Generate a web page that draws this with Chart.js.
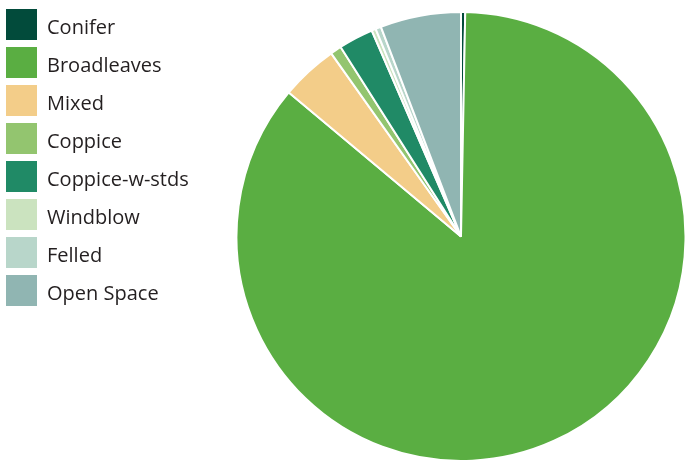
<!DOCTYPE html>
<html>
<head>
<meta charset="utf-8">
<script src="https://cdn.jsdelivr.net/npm/chart.js@4/dist/chart.umd.min.js"></script>
<style>
  html, body { margin: 0; padding: 0; background: #fff; }
  #wrap { position: relative; width: 687px; height: 462px; }
  #grafico { position: absolute; left: 0; top: 0; }
  #legenda { position: absolute; left: 6px; top: 9px; font-family: "Open Sans", sans-serif; font-size: 20px; color: #231f20; }
  .item { height: 31px; margin-bottom: 7px; display: flex; align-items: center; }
  .item span { padding-top: 3px; }
  .caixa { width: 31px; height: 31px; margin-right: 10px; }
</style>
</head>
<body>
<div id="wrap">
  <canvas id="grafico" width="687" height="462"></canvas>
  <div id="legenda"></div>
</div>
<script>
// area share (%) per woodland type
var categorias = ['Conifer', 'Broadleaves', 'Mixed', 'Coppice', 'Coppice-w-stds', 'Windblow', 'Felled', 'Open Space'];
var valores = [0.3, 85.7, 4.1, 0.8, 2.5, 0.3, 0.4, 5.8];
var cores = ['#024b3b', '#5aae42', '#f3cd89', '#93c56f', '#208a66', '#cbe3bf', '#b8d6ca', '#90b5b2'];

function MontaLegenda() {
    var html = '';
    for (var i in categorias) {
        html += '<div class="item"><div class="caixa" style="background:' + cores[i] + '"></div><span>' + categorias[i] + '</span></div>';
    }
    document.getElementById('legenda').innerHTML = html;
}

function MontaGrafico() {
    new Chart(document.getElementById('grafico'), {
        type: 'pie',
        data: {
            labels: categorias,
            datasets: [{
                data: valores,
                backgroundColor: cores,
                borderColor: '#ffffff',
                borderWidth: 2
            }]
        },
        options: {
            responsive: false,
            animation: false,
            layout: { padding: { left: 235, right: 0, top: 11, bottom: 0 } },
            plugins: {
                legend: { display: false },
                tooltip: { enabled: false }
            }
        }
    });
}

MontaLegenda();
MontaGrafico();
</script>
</body>
</html>
